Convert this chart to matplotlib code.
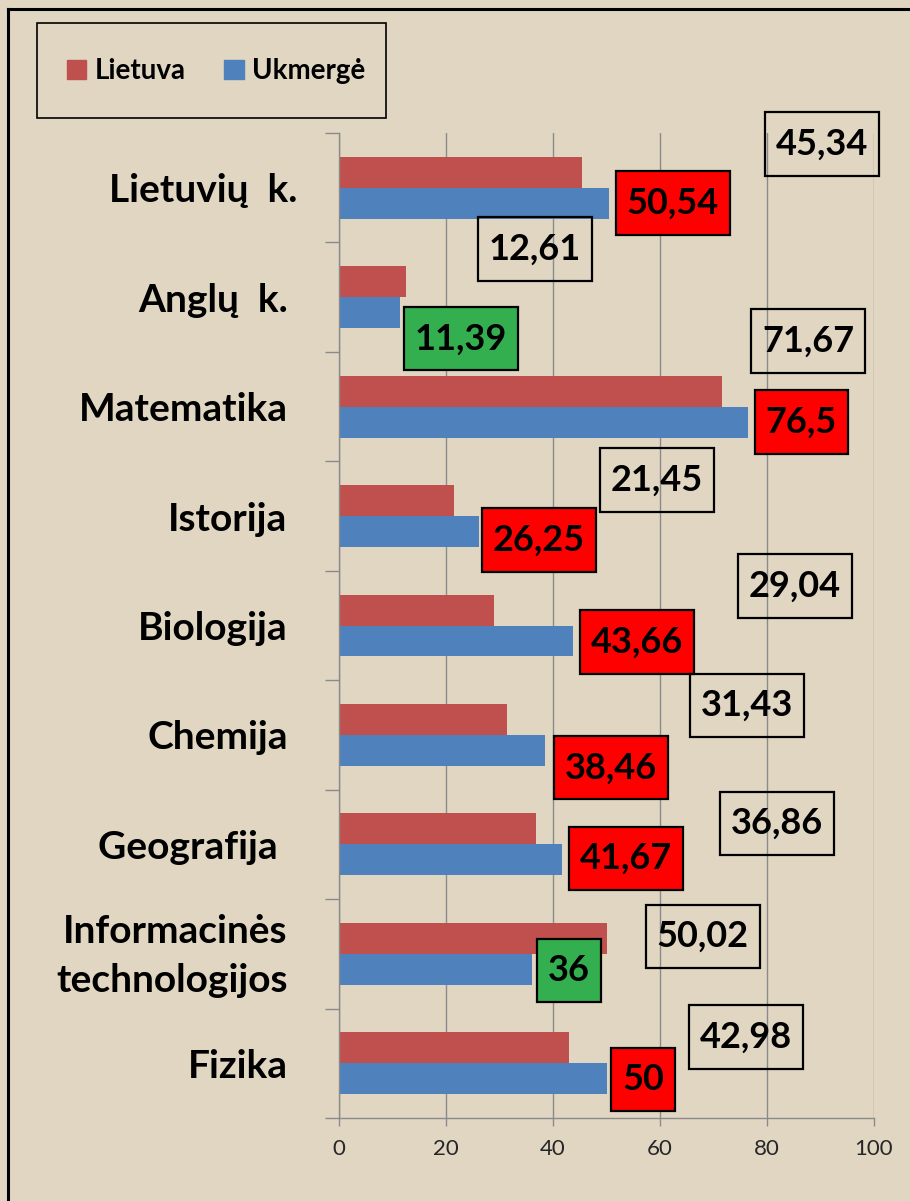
import numpy as np
import matplotlib
matplotlib.use("Agg")
import matplotlib.pyplot as plt
from matplotlib.patches import Rectangle, Patch
from matplotlib.lines import Line2D
from matplotlib.path import Path
from matplotlib.transforms import ScaledTranslation

# ---- data -------------------------------------------------------------
subjects = ["Lietuvių  k.", "Anglų  k.", "Matematika", "Istorija", "Biologija",
            "Chemija", "Geografija ", "Informacinės\ntechnologijos", "Fizika"]
lietuva = [45.34, 12.61, 71.67, 21.45, 29.04, 31.43, 36.86, 50.02, 42.98]
ukmerge = [50.54, 11.39, 76.5, 26.25, 43.66, 38.46, 41.67, 36, 50]
xticks = [0, 20, 40, 60, 80, 100]

# where the value boxes sit (x centre, y offset from the category centre)
lt_box_x = [90.3, 36.6, 87.7, 59.4, 85.2, 76.3, 81.9, 68.0, 76.1]
lt_box_dy = [-0.40, -0.44, -0.60, -0.33, -0.36, -0.27, -0.19, -0.16, -0.24]
uk_box_x = [62.4, 22.8, 86.4, 37.4, 55.7, 50.8, 53.6, 43.0, 56.8]
uk_box_dy = [0.14, 0.38, 0.14, 0.22, 0.15, 0.30, 0.13, 0.15, 0.15]

RED = "#C0504D"
BLUE = "#4F81BD"
BG = "#E0D6C2"
FONT = ["Lato", "DejaVu Sans"]

W, H = 910, 1201


def tall_box(x0, y0, width, height, mutation_size):
    # square box, more padding top/bottom than left/right (like the Excel labels)
    px, py = 0.30 * mutation_size, 0.42 * mutation_size
    x0, y0 = x0 - px, y0 - py
    x1, y1 = x0 + width + 2 * px, y0 + height + 2 * py
    return Path([(x0, y0), (x1, y0), (x1, y1), (x0, y1), (x0, y0)], closed=True)


def nudge(text, dx_px, dy_px):
    text.set_transform(text.get_transform()
                       + ScaledTranslation(dx_px / 100, dy_px / 100, fig.dpi_scale_trans))


plt.rcParams["font.family"] = FONT
fig = plt.figure(figsize=(W / 100, H / 100), dpi=100, facecolor=BG)

ax = fig.add_axes([339 / W, 1 - 1118 / H, (874 - 339) / W, (1118 - 133) / H])
ax.set_facecolor("none")

n = len(subjects)
y = np.arange(n)
h = 0.283
ax.barh(y - h / 2, lietuva, height=h, color=RED, zorder=2, label="Lietuva")
ax.barh(y + h / 2, ukmerge, height=h, color=BLUE, zorder=2, label="Ukmergė")

ax.set_xlim(0, 100)
ax.set_ylim(n - 0.5, -0.5)

# grid + axes in Excel grey
grey = "#8A8A8A"
ax.set_xticks(xticks)
ax.set_xticklabels([str(t) for t in xticks])
ax.grid(axis="x", color=grey, lw=1.0, zorder=0)
ax.tick_params(axis="x", length=5.8, width=1, color=grey, pad=9,
               labelsize=16, labelcolor="#262626")
for s in ["top", "right"]:
    ax.spines[s].set_visible(False)
for s in ["left", "bottom"]:
    ax.spines[s].set_color(grey)
    ax.spines[s].set_linewidth(1.0)

ax.set_yticks(y)
ylabs = ax.set_yticklabels(subjects, fontsize=28, fontweight="bold", linespacing=1.5)
ax.set_yticks(np.arange(n + 1) - 0.5, minor=True)
ax.tick_params(axis="y", which="major", length=0, pad=37)
ax.tick_params(axis="y", which="minor", length=10, width=1, color=grey)
# small offsets seen in the original
nudge(ylabs[0], 10, 0)
nudge(ylabs[7], 0, 8)

# value boxes
for i in range(n):
    lab = f"{lietuva[i]:g}".replace(".", ",")
    ax.text(lt_box_x[i], i + lt_box_dy[i], lab, ha="center", va="center",
            fontsize=26, fontweight="bold", zorder=4,
            bbox=dict(boxstyle=tall_box, fc="none", ec="black", lw=1.6))
    lab = f"{ukmerge[i]:g}".replace(".", ",")
    fc = "#FF0000" if ukmerge[i] > lietuva[i] else "#34AF50"
    ax.text(uk_box_x[i], i + uk_box_dy[i], lab, ha="center", va="center",
            fontsize=26, fontweight="bold", zorder=4,
            bbox=dict(boxstyle=tall_box, fc=fc, ec="black", lw=1.6))

# legend in its own framed box
handles = [Patch(color=RED, label="Lietuva"), Patch(color=BLUE, label="Ukmergė")]
fig.legend(handles=handles, loc="center", bbox_to_anchor=(216 / W, 1 - 71 / H),
           ncol=2, frameon=False, prop=dict(family=FONT, size=20, weight="bold"),
           handlelength=0.7, handleheight=0.7, handletextpad=0.3,
           columnspacing=1.4)
fig.add_artist(Rectangle((37 / W, 1 - 118 / H), (386 - 37) / W, (118 - 23) / H,
                         transform=fig.transFigure, fill=False, ec="black", lw=1.2))

# outer frame (only top and left edges fall inside the picture)
fig.add_artist(Line2D([8 / W, 8 / W], [0, 1 - 9 / H], transform=fig.transFigure,
                      color="black", lw=2.2))
fig.add_artist(Line2D([8 / W, 1], [1 - 9 / H, 1 - 9 / H], transform=fig.transFigure,
                      color="black", lw=2.2))

fig.savefig("out.png", dpi=100, facecolor=BG)
